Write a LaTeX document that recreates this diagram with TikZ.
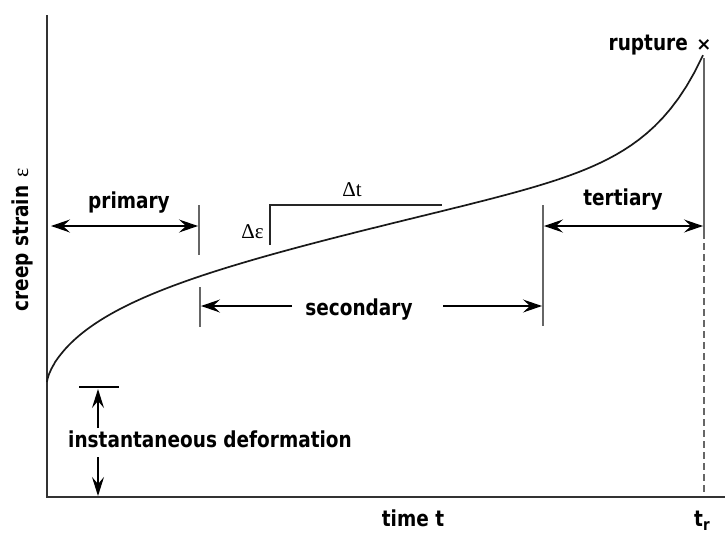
\documentclass[tikz,border=0pt]{standalone}
\usepackage{fontspec}
\setmainfont{DejaVu Sans}
\newfontfamily\serifgr{Liberation Serif}
\usetikzlibrary{arrows.meta}
\newcommand\sq[1]{\scalebox{0.84}[1]{#1}}
\begin{document}
\begin{tikzpicture}[x=1pt,y=-1pt,
  lab/.style={font=\fontsize{22}{24}\selectfont\bfseries, inner sep=0pt},
  ser/.style={font=\serifgr\fontsize{21}{23}\selectfont, inner sep=0pt},
  axis/.style={line width=2pt, draw=black!80},
  tick/.style={line width=1.3pt, draw=black!60},
  curve/.style={line width=1.7pt, draw=black!90},
  tip/.tip={Stealth[length=19pt,width=13pt,inset=7pt]},
  slimtip/.tip={Stealth[length=19pt,width=12pt,inset=7pt]},
  dim/.style={line width=1.3pt},
]
\useasboundingbox (0,0) rectangle (725,536);
% axes
\coordinate (Ytop) at (47,15);
\coordinate (O) at (47,497);
\coordinate (Xend) at (725,497);
\draw[axis] (Ytop) -- (O) -- (Xend);
% creep curve
\coordinate (C0) at (47,382);
\coordinate (R) at (704,55);
\draw[curve, line join=round] (C0) -- plot[domain=0.15:25.6125, samples=160, variable=\s]
  ({47+\s*\s}, {382 - (86*(1-exp(-((\s*\s/65)^0.7))) + 0.22*\s*\s + 97*exp((\s*\s-656)/50))});
% rupture
\node[font=\fontsize{18}{18}\selectfont\bfseries, inner sep=0pt] (X) at (704,45) {×};
\node[lab, anchor=east] (rup) at (688,45) {\sq{rupture}};
% rupture time line
\coordinate (Rt) at (704,58);
\coordinate (Rm) at (704,232);
\coordinate (Rb) at (704,495);
\draw[tick] (Rt) -- (Rm);
\draw[tick, dash pattern=on 7pt off 4pt] (Rm) -- (Rb);
% boundary ticks
\coordinate (P1) at (199,205); \coordinate (P2) at (199,255);
\coordinate (S1) at (200,287); \coordinate (S2) at (200,327);
\coordinate (T1) at (543,205); \coordinate (T2) at (543,326);
\draw[tick] (P1) -- (P2);
\draw[tick] (S1) -- (S2);
\draw[tick] (T1) -- (T2);
% primary
\coordinate (pa) at (51,226); \coordinate (pb) at (198,226);
\draw[dim, tip-tip] (pa) -- (pb);
\node[lab, anchor=base] (prim) at (129,208) {\sq{primary}};
% tertiary
\coordinate (ta) at (544,226); \coordinate (tb) at (703,226);
\draw[dim, tip-tip] (ta) -- (tb);
\node[lab, anchor=base] (tert) at (623,205) {\sq{tertiary}};
% secondary
\node[lab, anchor=base] (sec) at (359,315) {\sq{secondary}};
\coordinate (sa) at (201,306); \coordinate (sb) at (542,306);
\coordinate (sl) at (292,306); \coordinate (sr) at (443,306);
\draw[dim, -tip] (sl) -- (sa);
\draw[dim, -tip] (sr) -- (sb);
% slope triangle
\coordinate (D1) at (270,245); \coordinate (D2) at (270,205); \coordinate (D3) at (442,205);
\draw[dim, draw=black!85] (D1) -- (D2) -- (D3);
\node[ser, anchor=base] (dt) at (352,196) {Δt};
\node[ser, anchor=east] (de) at (264,232) {Δε};
% instantaneous deformation
\coordinate (b1) at (79,387); \coordinate (b2) at (119,387);
\draw[dim, line width=1.5pt] (b1) -- (b2);
\node[lab, anchor=base] (inst) at (210,447) {\sq{instantaneous deformation}};
\coordinate (ua) at (98,428); \coordinate (ub) at (98,389);
\coordinate (da) at (98,457); \coordinate (db) at (98,496);
\draw[dim, -slimtip] (ua) -- (ub);
\draw[dim, -slimtip] (da) -- (db);
% axis labels
\node[lab, rotate=90] (ylab) at (22,240) {\sq{creep strain} {\serifgr\mdseries ε}};
\node[lab, anchor=base] (xlab) at (413,526) {\sq{time t}};
\node[lab, anchor=base west] (tr) at (694,526) {\sq{t}\raisebox{-4pt}{\fontsize{16}{16}\selectfont\sq{r}}};
\end{tikzpicture}
\end{document}
